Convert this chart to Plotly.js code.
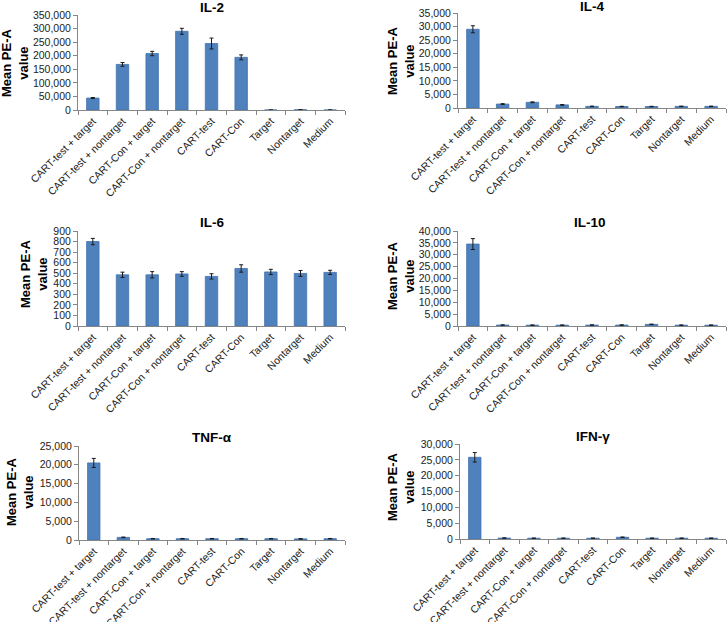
<!DOCTYPE html>
<html>
<head>
<meta charset="utf-8">
<script src="https://cdn.plot.ly/plotly-3.0.1.min.js"></script>
<style>html,body{margin:0;padding:0;background:#fff;}#chart{width:727px;height:622px;}</style>
</head>
<body>
<div id="chart"></div>
<script>
const categories = ["CART-test + target", "CART-test + nontarget", "CART-Con + target", "CART-Con + nontarget", "CART-test", "CART-Con", "Target", "Nontarget", "Medium"];

const panelTitles = ["IL-2", "IL-4", "IL-6", "IL-10", "TNF-α", "IFN-γ"];

const il2 = [44000, 168000, 208000, 290000, 245000, 194000, 0, 800, 0];
const il2Err = [2000, 7000, 8000, 11000, 20000, 9000, 0, 500, 0];

const il4 = [29000, 1450, 2100, 1150, 600, 550, 550, 600, 600];
const il4Err = [1300, 150, 150, 120, 80, 80, 80, 80, 80];

const il6 = [800, 485, 485, 493, 470, 545, 512, 498, 508];
const il6Err = [30, 25, 30, 22, 25, 35, 25, 28, 20];

const il10 = [34500, 400, 350, 350, 400, 400, 700, 350, 350];
const il10Err = [2300, 60, 60, 60, 60, 60, 80, 60, 60];

const tnf = [20500, 700, 350, 350, 350, 350, 350, 300, 350];
const tnfErr = [1200, 80, 60, 60, 60, 60, 60, 60, 60];

const ifn = [25800, 300, 250, 250, 250, 550, 250, 250, 250];
const ifnErr = [1500, 60, 50, 50, 50, 80, 50, 50, 50];

const yMax = [350000, 35000, 900, 40000, 25000, 30000];
const yStep = [50000, 5000, 100, 5000, 5000, 5000];

const series = [il2, il4, il6, il10, tnf, ifn];
const errors = [il2Err, il4Err, il6Err, il10Err, tnfErr, ifnErr];

// ---- layout geometry (pixels) ----
const W = 727, H = 622;
const px = v => v / W;
const py = v => 1 - v / H;
// [left, right, top, bottom] of each plot area
const boxes = [
  [78, 345, 15, 110],
  [458, 726, 13, 108],
  [78, 345, 231, 326],
  [458, 726, 231, 326],
  [79, 345, 446, 540],
  [460, 726, 444, 539]
];
const titlePos = [[212, 8], [592, 6], [212, 222], [590, 222], [212, 437], [593, 436]];
const yTitlePos = [[15, 63], [401, 61], [34, 274], [401, 276], [20, 492], [401, 487]];

const FONT = "Arial, 'Liberation Sans', sans-serif";
const axisGrey = "#868686";

const data = [];
const layout = {
  width: W, height: H,
  margin: {l: 0, r: 0, t: 0, b: 0},
  paper_bgcolor: "#fff", plot_bgcolor: "#fff",
  showlegend: false,
  font: {family: FONT, size: 10.5, color: "#222"},
  bargap: 0.58,
  annotations: []
};

for (let i = 0; i < 6; i++) {
  const n = i === 0 ? "" : String(i + 1);
  data.push({
    type: "bar",
    x: categories,
    y: series[i],
    xaxis: "x" + n,
    yaxis: "y" + n,
    marker: {color: "#4F81BD", line: {color: "#4272AD", width: 0.8}},
    error_y: {type: "data", array: errors[i], visible: true, color: "#1a1a1a", thickness: 1, width: 2},
    hoverinfo: "x+y"
  });
  const b = boxes[i];
  layout["xaxis" + n] = {
    domain: [px(b[0]), px(b[1])],
    anchor: "y" + n,
    type: "category",
    range: [-0.5, 8.5],
    showline: true, linecolor: axisGrey, linewidth: 1,
    ticks: "outside", ticklen: 4, tickcolor: axisGrey, tickson: "boundaries",
    tickangle: -45,
    tickfont: {family: FONT, size: 10.5, color: "#222"},
    showgrid: false, zeroline: false, fixedrange: true
  };
  layout["yaxis" + n] = {
    domain: [py(b[3]), py(b[2])],
    anchor: "x" + n,
    range: [0, yMax[i]],
    dtick: yStep[i], tick0: 0,
    tickformat: ",",
    showline: true, linecolor: axisGrey, linewidth: 1,
    ticks: "outside", ticklen: 4, tickcolor: axisGrey,
    tickfont: {family: FONT, size: 10.5, color: "#222"},
    showgrid: false, zeroline: false, fixedrange: true
  };
  layout.annotations.push({
    text: "<b>" + panelTitles[i] + "</b>",
    xref: "paper", yref: "paper",
    x: px(titlePos[i][0]), y: py(titlePos[i][1]),
    xanchor: "center", yanchor: "middle",
    showarrow: false,
    font: {family: FONT, size: 13.5, color: "#000"}
  });
  layout.annotations.push({
    text: "<b>Mean PE-A<br>value</b>",
    xref: "paper", yref: "paper",
    x: px(yTitlePos[i][0]), y: py(yTitlePos[i][1]),
    xanchor: "center", yanchor: "middle",
    textangle: -90,
    showarrow: false,
    font: {family: FONT, size: 13, color: "#000"}
  });
}

Plotly.newPlot("chart", data, layout, {displayModeBar: false, staticPlot: true});
</script>
</body>
</html>
